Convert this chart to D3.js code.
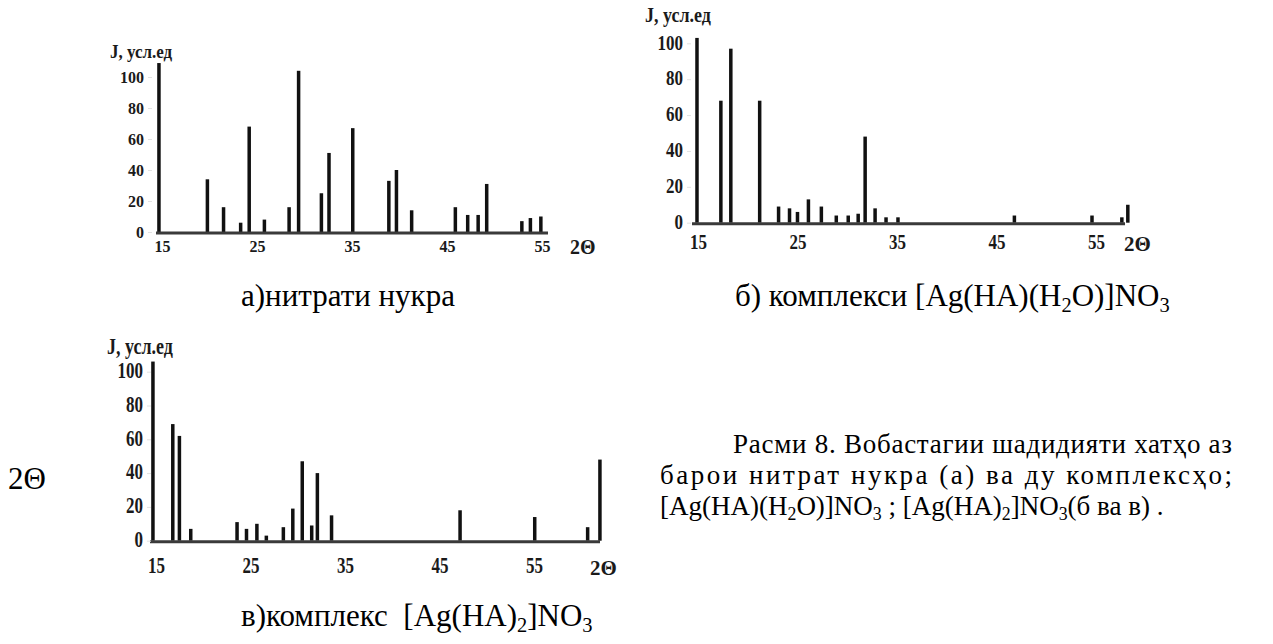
<!DOCTYPE html>
<html>
<head>
    <title>Расми 8</title>
    <meta charset="utf-8">
    <style>
        body { margin: 0; background: #fff; }
        svg { display: block; }
    </style>
</head>
<body>

<svg id="svg"></svg>
<script src="https://cdn.jsdelivr.net/npm/d3@7/dist/d3.min.js"></script>
<script>
    // tick labels shared by the three patterns
    const xTicks = [15, 25, 35, 45, 55]
    const yTicks = [0, 20, 40, 60, 80, 100]

    // а) нитрати нукра : 2Θ and intensity
    const posA = [15.1, 20.2, 21.9, 23.7, 24.6, 26.2, 28.8, 29.8, 32.2, 33.0, 35.5,
                  39.3, 40.1, 41.7, 46.3, 47.6, 48.7, 49.6, 53.3, 54.2, 55.3]
    const intA = [109, 34, 16, 6, 68, 8, 16, 104, 25, 51, 67,
                  33, 40, 14, 16, 11, 11, 31, 7, 9, 10]

    // б) [Ag(HA)(H2O)]NO3
    const posB = [15.3, 17.7, 18.7, 21.6, 23.5, 24.6, 25.4, 26.5, 27.8, 29.3,
                  30.5, 31.5, 32.2, 33.2, 34.3, 35.5, 47.2, 55.0, 58.0, 58.6]
    const intB = [103, 68, 97, 68, 9, 8, 6, 13, 9, 4,
                  4, 5, 48, 8, 3, 3, 4, 4, 3, 10]

    // в) [Ag(HA)2]NO3
    const posC = [15.1, 17.2, 17.9, 19.1, 24.0, 25.0, 26.1, 27.1, 28.9, 29.9,
                  30.9, 31.9, 32.5, 34.0, 47.6, 55.5, 61.1, 62.4]
    const intC = [106, 69, 62, 7, 11, 7, 10, 3, 8, 19,
                  47, 9, 40, 15, 18, 14, 8, 48]

    const WIDTH = 1273
    const HEIGHT = 644

    const svg = d3.select('svg')
        .attr('width', WIDTH)
        .attr('height', HEIGHT)

    svg.append('rect').attr('width', WIDTH).attr('height', HEIGHT).attr('fill', '#fff')

    const SERIF = 'Liberation Serif, Times New Roman, serif'

    const panels = [
        {pos: posA, int: intA, xr: [158, 538], yr: [232, 77], axisEnd: 548,
         labelRight: 144, xLabelY: 252, jx: 110, jy: 58, thetaX: 570, fs: 16, sy: 1.05, barW: 3.5},
        {pos: posB, int: intB, xr: [694, 1092], yr: [222.7, 43.3], axisEnd: 1125,
         labelRight: 683, xLabelY: 249, jx: 645, jy: 22, thetaX: 1124, fs: 17, sy: 1.2, barW: 3.5},
        {pos: posC, int: intC, xr: [152, 530], yr: [540.7, 371.7], axisEnd: 600,
         labelRight: 143, xLabelY: 573, jx: 107, jy: 354, thetaX: 590, fs: 17, sy: 1.3, barW: 3.5}
    ]

    // stretch a label vertically around its own baseline
    const stretch = (sel, sy) => sel.each(function () {
        const t = d3.select(this)
        const y = +t.attr('y') || 0
        t.attr('transform', `translate(0,${y * (1 - sy)}) scale(1,${sy})`)
    })

    panels.forEach((p) => {
        const x = d3.scaleLinear().domain([15, 55]).range(p.xr)
        const y = d3.scaleLinear().domain([0, 100]).range(p.yr)
        const g = svg.append('g')

        // peaks
        g.append('g')
            .selectAll('rect')
            .data(p.pos)
            .enter().append('rect')
            .attr('x', (d) => x(d) - p.barW / 2)
            .attr('y', (d, i) => y(p.int[i]))
            .attr('width', p.barW)
            .attr('height', (d, i) => y(0) - y(p.int[i]))
            .attr('fill', '#111')

        // base line
        g.append('line')
            .attr('x1', p.xr[0] - 2)
            .attr('x2', p.axisEnd)
            .attr('y1', y(0) + 1)
            .attr('y2', y(0) + 1)
            .attr('stroke', '#3a3a3a')
            .attr('stroke-width', 3)

        const xAxis = g.append('g')
            .attr('transform', `translate(0,${p.xLabelY})`)
            .call(d3.axisBottom(x).tickValues(xTicks).tickSize(0).tickPadding(0))
        xAxis.select('.domain').remove()
        xAxis.selectAll('text')
            .attr('dy', 0)
            .attr('dx', 4)
            .attr('font-family', SERIF)
            .attr('font-weight', 'bold')
            .attr('font-size', p.fs)
            .attr('fill', '#1a1a1a')
            .call(stretch, p.sy)

        const yAxis = g.append('g')
            .attr('transform', `translate(${p.labelRight + 8},0)`)
            .call(d3.axisLeft(y).tickValues(yTicks).tickSize(4).tickPadding(4))
        yAxis.select('.domain').remove()
        yAxis.selectAll('line').attr('stroke', '#e2e2e2')
        yAxis.selectAll('text')
            .attr('dy', '0.34em')
            .attr('font-family', SERIF)
            .attr('font-weight', 'bold')
            .attr('font-size', p.fs)
            .attr('fill', '#1a1a1a')
            .attr('transform', `scale(1,${p.sy})`)
            .attr('y', 0)
        yAxis.selectAll('.tick text').attr('dy', `${0.34 / p.sy}em`)

        g.append('text')
            .attr('x', p.jx)
            .attr('y', p.jy)
            .attr('font-family', SERIF)
            .attr('font-weight', 'bold')
            .attr('font-size', p.fs + 1)
            .attr('fill', '#1a1a1a')
            .text('J, усл.ед')
            .call(stretch, p.sy)

        g.append('text')
            .attr('x', p.thetaX)
            .attr('y', p.xLabelY + 2)
            .attr('font-family', SERIF)
            .attr('font-weight', 'bold')
            .attr('font-size', p.fs + 4)
            .attr('fill', '#1a1a1a')
            .text('2Θ')
    })

    // captions, parts given as {sub: ...} are subscripts
    const writeText = (x, y, size, parts, width) => {
        const t = svg.append('text')
            .attr('x', x)
            .attr('y', y)
            .attr('font-family', SERIF)
            .attr('font-size', size)
            .attr('fill', '#000')
            .style('white-space', 'pre')
        let low = false
        parts.forEach((part) => {
            const sub = typeof part === 'object'
            const s = t.append('tspan').text(sub ? part.sub : part)
            if (sub) s.attr('font-size', size * 0.66)
            if (sub !== low) s.attr('dy', sub ? size * 0.2 : -size * 0.2)
            low = sub
        })
        if (width) t.attr('textLength', width).attr('lengthAdjust', 'spacing')
        return t
    }

    const FIG = 31
    const BODY = 27

    writeText(241, 306, FIG, ['а)нитрати нукра'])
    writeText(735, 306, FIG, ['б) комплекси [Ag(HA)(H', {sub: '2'}, 'O)]NO', {sub: '3'}])
    writeText(241, 626, FIG, ['в)комплекс  [Ag(HA)', {sub: '2'}, ']NO', {sub: '3'}])

    writeText(8, 489, FIG, ['2Θ'])

    writeText(733, 453, BODY, ['Расми 8. Вобастагии шадидияти хатҳо аз'], 499)
    writeText(660, 484, BODY, ['барои нитрат нукра (а) ва ду комплексҳо;'], 572)
    writeText(660, 515, BODY, ['[Ag(HA)(H', {sub: '2'}, 'O)]NO', {sub: '3'}, ' ; [Ag(HA)', {sub: '2'},
        ']NO', {sub: '3'}, '(б ва в) .'])
</script>
</body>
</html>
